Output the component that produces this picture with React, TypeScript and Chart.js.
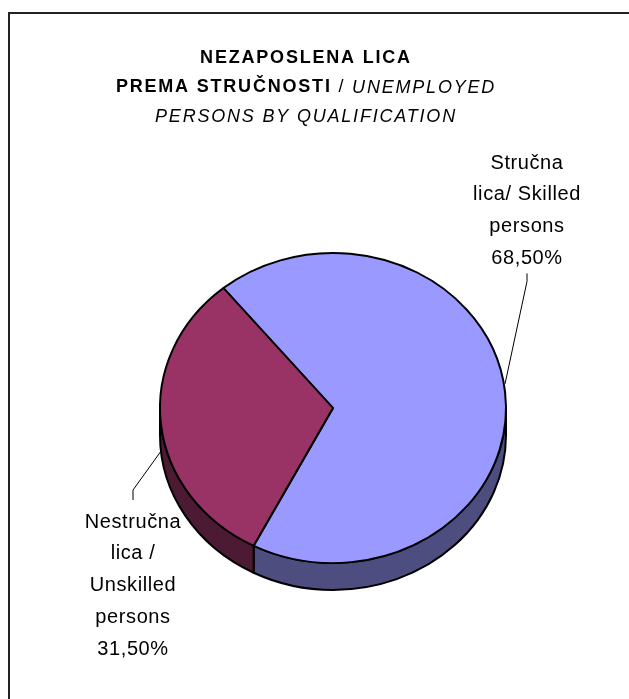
import React, { useEffect, useRef } from "react";
import { Chart, registerables } from "chart.js";

Chart.register(...registerables);

// ---- data ----
const categories = ["Stručna lica/ Skilled persons", "Nestručna lica / Unskilled persons"];
const values = [68.5, 31.5];
const labelNameLines = [
  ["Stručna", "lica/ Skilled", "persons"],
  ["Nestručna", "lica /", "Unskilled", "persons"],
];
const topColors = ["#9999FF", "#993366"];
const sideColors = ["#4D4D80", "#4D1A33"];
const titleLines: { text: string; style: string }[][] = [
  [{ text: "NEZAPOSLENA LICA", style: "bold" }],
  [
    { text: "PREMA STRUČNOSTI", style: "bold" },
    { text: " / ", style: "normal" },
    { text: "UNEMPLOYED", style: "italic" },
  ],
  [{ text: "PERSONS BY QUALIFICATION", style: "italic" }],
];

// ---- layout ----
const W = 629;
const H = 699;
const Y_RATIO = 155 / 173;
const DEPTH = 27;
const FONT = '"Liberation Sans", Arial, sans-serif';
const labelPos = [
  { x: 527, y: 163, leader: "below" },
  { x: 133, y: 522, leader: "above" },
];
const LINE_H = 31.8;

function pctText(v: number) {
  return v.toFixed(2).replace(".", ",") + "%";
}

function frontIntervals(s: number, e: number): [number, number][] {
  const res: [number, number][] = [];
  for (let k = -2; k <= 2; k++) {
    const a = Math.max(s, k * 2 * Math.PI);
    const b = Math.min(e, k * 2 * Math.PI + Math.PI);
    if (b > a) res.push([a, b]);
  }
  return res;
}

const pie3d = {
  id: "pie3d",
  beforeDatasetsDraw(chart: any) {
    const ctx = chart.ctx as CanvasRenderingContext2D;
    const arcs = chart.getDatasetMeta(0).data as any[];
    if (!arcs.length) return;
    const { x: cx, y: cy, outerRadius: r } = arcs[0];
    const ry = r * Y_RATIO;
    ctx.save();
    ctx.lineWidth = 2;
    ctx.lineJoin = "round";
    ctx.strokeStyle = "#000";
    arcs.forEach((arc, i) => {
      frontIntervals(arc.startAngle, arc.endAngle).forEach(([a, b]) => {
        ctx.beginPath();
        ctx.ellipse(cx, cy + DEPTH, r, ry, 0, a, b, false);
        ctx.lineTo(cx + r * Math.cos(b), cy + ry * Math.sin(b));
        ctx.ellipse(cx, cy, r, ry, 0, b, a, true);
        ctx.closePath();
        ctx.fillStyle = sideColors[i];
        ctx.fill();
        ctx.stroke();
      });
    });
    ctx.restore();
    ctx.save();
    ctx.translate(cx, cy);
    ctx.scale(1, Y_RATIO);
    ctx.translate(-cx, -cy);
  },
  afterDatasetsDraw(chart: any) {
    chart.ctx.restore();
  },
};

function drawSegLine(ctx: CanvasRenderingContext2D, segs: { text: string; style: string }[], cx: number, y: number) {
  const fontFor = (s: string) =>
    s === "bold" ? `bold 18px ${FONT}` : s === "italic" ? `italic 18px ${FONT}` : `18px ${FONT}`;
  let total = 0;
  const widths = segs.map((sg) => {
    ctx.font = fontFor(sg.style);
    const w = ctx.measureText(sg.text).width;
    total += w;
    return w;
  });
  let x = cx - total / 2;
  segs.forEach((sg, i) => {
    ctx.font = fontFor(sg.style);
    ctx.fillText(sg.text, x, y);
    x += widths[i];
  });
}

const decorations = {
  id: "decorations",
  afterDraw(chart: any) {
    const ctx = chart.ctx as CanvasRenderingContext2D;
    ctx.save();
    // frame
    ctx.strokeStyle = "#222";
    ctx.lineWidth = 2;
    ctx.strokeRect(9, 13, W + 20, H + 20);
    // title
    ctx.fillStyle = "#000";
    ctx.textBaseline = "middle";
    ctx.textAlign = "left";
    (ctx as any).letterSpacing = "1.8px";
    titleLines.forEach((line, i) => drawSegLine(ctx, line, 306, 58 + i * 29.5));

    // labels + leaders
    const arcs = chart.getDatasetMeta(0).data as any[];
    ctx.textAlign = "center";
    ctx.font = `20px ${FONT}`;
    (ctx as any).letterSpacing = "0.6px";
    arcs.forEach((arc, i) => {
      const lines = [...labelNameLines[i], pctText(values[i])];
      const p = labelPos[i];
      lines.forEach((t, j) => ctx.fillText(t, p.x, p.y + j * LINE_H));
      const mid = (arc.startAngle + arc.endAngle) / 2;
      const r = arc.outerRadius;
      const ax = arc.x + r * Math.cos(mid);
      let ay = arc.y + r * Y_RATIO * Math.sin(mid);
      if (Math.sin(mid) > 0) ay += DEPTH;
      else ay -= 8;
      let endY: number, bendY: number;
      if (p.leader === "below") {
        endY = p.y + (lines.length - 1) * LINE_H + 15;
        bendY = endY + 8;
      } else {
        endY = p.y - 22;
        bendY = endY - 10;
      }
      ctx.strokeStyle = "#000";
      ctx.lineWidth = 1;
      ctx.beginPath();
      ctx.moveTo(ax, ay);
      ctx.lineTo(p.x, bendY);
      ctx.lineTo(p.x, endY);
      ctx.stroke();
    });
    ctx.restore();
  },
};

export default function App() {
  const ref = useRef<HTMLCanvasElement>(null);
  useEffect(() => {
    if (!ref.current) return;
    const chart = new Chart(ref.current, {
      type: "pie",
      data: {
        labels: categories,
        datasets: [
          {
            data: values,
            backgroundColor: topColors,
            borderColor: "#000",
            borderWidth: 2,
            radius: 173,
          } as any,
        ],
      },
      options: {
        responsive: false,
        animation: false,
        events: [],
        rotation: -39.3,
        layout: { padding: { left: 150, right: 113, top: 230, bottom: 113 } },
        plugins: {
          legend: { display: false },
          title: { display: false },
          tooltip: { enabled: false },
        },
      },
      plugins: [pie3d, decorations],
    });
    return () => chart.destroy();
  }, []);
  return (
    <canvas
      ref={ref}
      width={W}
      height={H}
      style={{ position: "fixed", left: 0, top: 0, width: W, height: H, background: "#fff" }}
    />
  );
}
